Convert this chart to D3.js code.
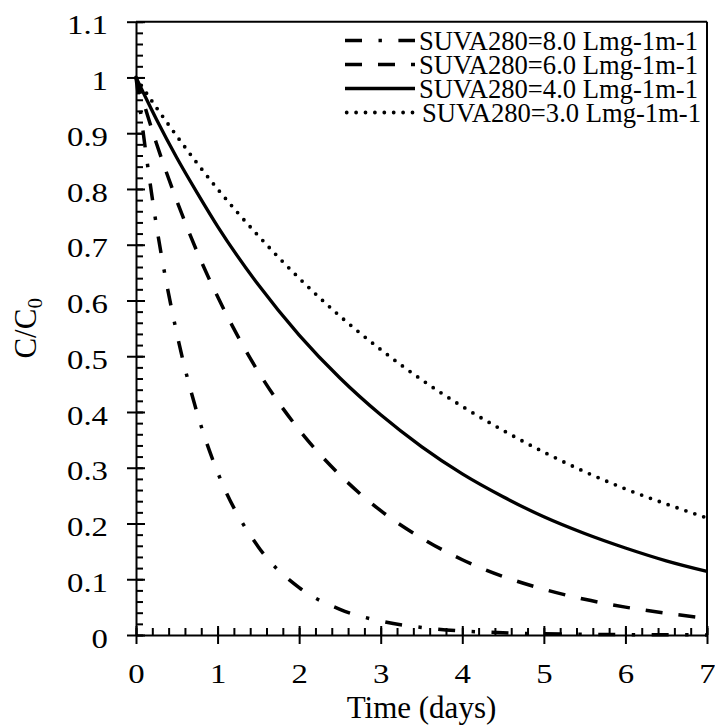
<!DOCTYPE html>
<html>
<head>
<meta charset="utf-8">
<script src="https://cdn.jsdelivr.net/npm/d3@7"></script>
<style>
  body { margin: 0; background: #fff; }
  svg text { font-family: "Liberation Serif", "Times New Roman", serif; fill: #000; }
</style>
</head>
<body>
<svg id="chart" width="715" height="725"></svg>
<script>
// values (C/C0 against time in days)
var times = [0, 0.25, 0.5, 0.75, 1, 1.5, 2, 2.5, 3, 3.5, 4, 4.5, 5, 5.5, 6, 6.5, 7];
var suva80 = [1, 0.735, 0.541, 0.398, 0.292, 0.158, 0.085, 0.046, 0.025, 0.0135, 0.0073, 0.004, 0.0021, 0.0012, 0.0006, 0.0003, 0.0002];
var suva60 = [1, 0.882, 0.779, 0.687, 0.607, 0.472, 0.368, 0.287, 0.223, 0.174, 0.135, 0.105, 0.082, 0.064, 0.05, 0.039, 0.03];
var suva40 = [1, 0.925, 0.856, 0.793, 0.733, 0.628, 0.538, 0.461, 0.395, 0.338, 0.289, 0.248, 0.212, 0.182, 0.156, 0.133, 0.114];
var suva30 = [1, 0.946, 0.895, 0.846, 0.8, 0.716, 0.64, 0.572, 0.512, 0.458, 0.41, 0.367, 0.328, 0.293, 0.262, 0.235, 0.21];
var seriesNames = ["SUVA280=8.0 Lmg-1m-1", "SUVA280=6.0 Lmg-1m-1", "SUVA280=4.0 Lmg-1m-1", "SUVA280=3.0 Lmg-1m-1"];
var xTicks = [0, 1, 2, 3, 4, 5, 6, 7];
var yTicks = [0, 0.1, 0.2, 0.3, 0.4, 0.5, 0.6, 0.7, 0.8, 0.9, 1, 1.1];
var yTickLabels = ["0", "0.1", "0.2", "0.3", "0.4", "0.5", "0.6", "0.7", "0.8", "0.9", "1", "1.1"];

var svg = d3.select("#chart");
var plotLeft = 136, plotRight = 707, plotTop = 21.7, plotBottom = 635;

var x = d3.scaleLinear().domain([0, 7]).range([plotLeft, plotRight]);
var y = d3.scaleLinear().domain([0, 1.1]).range([plotBottom, plotTop]);

// line styles per series
var styles = [
  { dash: "17,16.5,3.4,16.5", width: 3.5, cap: "butt" },
  { dash: "17,16", width: 3.5, cap: "butt" },
  { dash: null, width: 3.3, cap: "butt" },
  { dash: "0,9.4", width: 3.8, cap: "round" }
];
var allSeries = [suva80, suva60, suva40, suva30];

// frame (top + right)
svg.append("line").attr("x1", plotLeft).attr("x2", plotRight).attr("y1", plotTop).attr("y2", plotTop)
  .attr("stroke", "#000").attr("stroke-width", 2);
svg.append("line").attr("x1", plotRight).attr("x2", plotRight).attr("y1", plotTop).attr("y2", plotBottom)
  .attr("stroke", "#000").attr("stroke-width", 2);

// minor ticks
svg.append("g")
  .attr("transform", "translate(0," + plotBottom + ")")
  .call(d3.axisBottom(x).tickValues(d3.range(0, 7.01, 0.2)).tickSize(-7).tickFormat(""))
  .call(function(g) { g.select(".domain").remove(); g.selectAll("line").attr("stroke-width", 2); });
svg.append("g")
  .attr("transform", "translate(" + plotLeft + ",0)")
  .call(d3.axisLeft(y).tickValues(d3.range(0, 1.101, 0.02)).tickSize(-7).tickFormat(""))
  .call(function(g) { g.select(".domain").remove(); g.selectAll("line").attr("stroke-width", 2); });

// x axis (tick labels are drawn a bit wide in the original)
var xAxis = svg.append("g")
  .attr("transform", "translate(0," + plotBottom + ")")
  .call(d3.axisBottom(x).tickValues(xTicks).tickSizeOuter(0).tickFormat(d3.format("d")));
xAxis.attr("font-family", null).attr("font-size", null);
xAxis.select(".domain").attr("stroke-width", 2);
xAxis.selectAll(".tick line").attr("y1", -9).attr("y2", 9).attr("stroke-width", 2);
xAxis.selectAll(".tick text").attr("y", 0).attr("dy", 0)
  .attr("transform", "translate(0,48) scale(1.17,1)")
  .style("font-size", "28px");

// y axis
var yAxis = svg.append("g")
  .attr("transform", "translate(" + plotLeft + ",0)")
  .call(d3.axisLeft(y).tickValues(yTicks).tickSizeOuter(0)
    .tickFormat(function(d, i) { return yTickLabels[i]; }));
yAxis.attr("font-family", null).attr("font-size", null);
yAxis.select(".domain").attr("stroke-width", 2);
yAxis.selectAll(".tick line").attr("x1", -9).attr("x2", 9).attr("stroke-width", 2);
yAxis.selectAll(".tick text").attr("x", 0).attr("dy", "0.43em")
  .attr("transform", "translate(-28,0) scale(1.17,1)")
  .style("font-size", "28px");

// curves
var line = d3.line()
  .x(function(d, i) { return x(times[i]); })
  .y(function(d) { return y(d); })
  .curve(d3.curveMonotoneX);

svg.append("g").selectAll("path")
  .data(allSeries)
  .enter()
  .append("path")
  .attr("d", function(d) { return line(d); })
  .attr("fill", "none")
  .attr("stroke", "#000")
  .attr("stroke-width", function(d, i) { return styles[i].width; })
  .attr("stroke-linecap", function(d, i) { return styles[i].cap; })
  .attr("stroke-dasharray", function(d, i) { return styles[i].dash; });

// legend
var legendY = [40.5, 64.5, 88.5, 112.5];
var legend = svg.append("g");
seriesNames.forEach(function(name, i) {
  var x0 = i === 3 ? 346.7 : 345;
  legend.append("line")
    .attr("x1", x0).attr("x2", 415)
    .attr("y1", legendY[i]).attr("y2", legendY[i])
    .attr("stroke", "#000")
    .attr("stroke-width", styles[i].width)
    .attr("stroke-linecap", styles[i].cap)
    .attr("stroke-dasharray", styles[i].dash);
  legend.append("text")
    .attr("x", i === 3 ? 422 : 419)
    .attr("y", legendY[i])
    .attr("dy", "0.34em")
    .style("font-size", "26.6px")
    .text(name);
});

// axis titles
svg.append("text")
  .attr("x", (plotLeft + plotRight) / 2)
  .attr("y", 718)
  .attr("text-anchor", "middle")
  .style("font-size", "31px")
  .text("Time (days)");

var yTitle = svg.append("text")
  .attr("transform", "translate(36," + (plotTop + plotBottom) / 2 + ") rotate(-90)")
  .attr("text-anchor", "middle")
  .style("font-size", "31px");
yTitle.append("tspan").text("C/C");
yTitle.append("tspan").attr("dy", 6).style("font-size", "21px").text("0");
</script>
</body>
</html>
